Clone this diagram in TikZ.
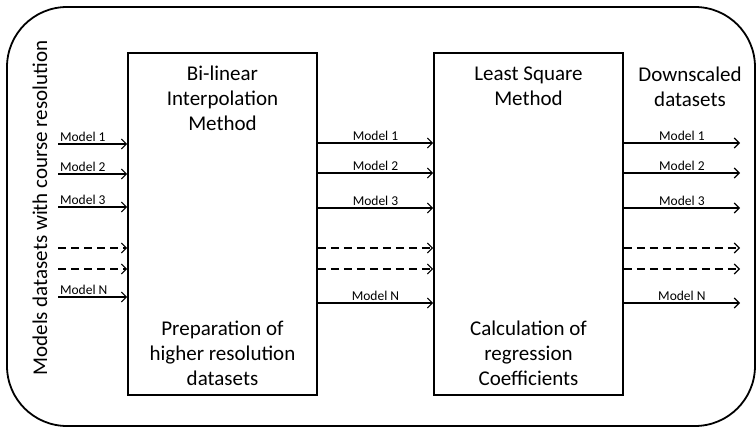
\documentclass[tikz,border=0pt]{standalone}
\usepackage{fontspec}
\setmainfont{Carlito}
\usepackage{tikz}
\usetikzlibrary{positioning, arrows.meta}
\tikzstyle{blk}=[draw, line width=1.6pt, minimum width=189pt, minimum height=342pt, inner sep=0pt]
\tikzstyle{txt}=[align=center, font=\fontsize{21}{25}\selectfont, inner sep=0pt]
\tikzstyle{lbl}=[font=\fontsize{13.5}{15}\selectfont, inner sep=1.5pt]
\tikzstyle{flow}=[->, line width=1.1pt]
\tikzset{>={Straight Barb[length=5pt,width=10pt]}}

\begin{document}
\begin{tikzpicture}[x=1pt, y=-1pt]
\useasboundingbox (0,0) rectangle (756,428);
\draw[line width=1.8pt, rounded corners=60pt] (7,7) rectangle (755,426);

\node[blk] (bilin) at (222.5,224) {};
\node[blk] (lsq) at (528.5,224) {};

\node[txt, below=14pt of bilin.north] (bilintop) {Bi-linear\\Interpolation\\Method};
\node[txt, above=10pt of bilin.south] (bilinbot) {Preparation of\\higher resolution\\datasets};
\node[txt, below=14pt of lsq.north] (lsqtop) {Least Square\\Method};
\node[txt, above=10pt of lsq.south] (lsqbot) {Calculation of\\regression\\Coefficients};
\node[txt] (down) at (690,87) {Downscaled\\datasets};
\node[txt, rotate=90] (axis) at (40,208) {Models datasets with course resolution};

% inputs
\foreach \y/\m in {144/1, 174/2, 207/3, 297/N}{
\coordinate (in\m) at (58,\y);
\draw[flow] (in\m) -- (in\m -| bilin.west) node[lbl, pos=0, above right] {Model \m};
}
\foreach \y/\j in {248/a, 269/b}{
\coordinate (in\j) at (58,\y);
\draw[flow, dash pattern=on 8pt off 5pt] (in\j) -- (in\j -| bilin.west);
}

% between the blocks and out
\foreach \y/\m in {143/1, 173/2, 208/3, 303/N}{
\coordinate (row\m) at (0,\y);
\coordinate (out\m) at (740,\y);
\draw[flow] (bilin.east |- row\m) -- (lsq.west |- row\m) node[lbl, midway, above] {Model \m};
\draw[flow] (lsq.east |- row\m) -- (out\m) node[lbl, midway, above] {Model \m};
}
\foreach \y/\j in {248/a, 269/b}{
\coordinate (row\j) at (0,\y);
\coordinate (out\j) at (740,\y);
\draw[flow, dash pattern=on 8pt off 5pt] (bilin.east |- row\j) -- (lsq.west |- row\j);
\draw[flow, dash pattern=on 8pt off 5pt] (lsq.east |- row\j) -- (out\j);
}
\end{tikzpicture}
\end{document}
